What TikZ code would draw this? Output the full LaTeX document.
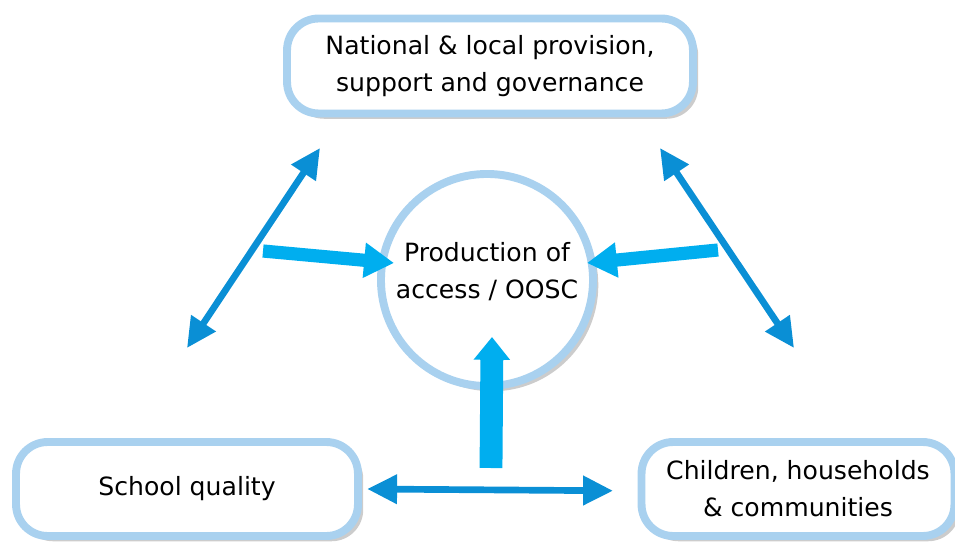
\documentclass[tikz,border=0pt]{standalone}
\usepackage{fontspec}
\setmainfont{DejaVu Sans}
\usetikzlibrary{arrows.meta,shadows,calc}

\definecolor{rimblue}{HTML}{A9D1EF}
\definecolor{linkblue}{HTML}{0A8FD5}
\definecolor{flowcyan}{HTML}{00AEEF}

\tikzset{
  factor/.style={draw=rimblue,line width=4.5pt,fill=white,rounded corners=18pt,
    align=center,font=\fontsize{14.3}{21}\selectfont,
    drop shadow={shadow xshift=3pt,shadow yshift=-3pt,opacity=0.2,fill=black}},
  core/.style={circle,draw=rimblue,line width=4.5pt,fill=white,minimum size=4.2cm,
    align=center,font=\fontsize{14.3}{21}\selectfont,text depth=11pt,
    drop shadow={shadow xshift=3pt,shadow yshift=-3pt,opacity=0.2,fill=black}},
  link/.style={linkblue,line width=3.8pt,
    {Triangle[length=17pt,width=16pt]}-{Triangle[length=17pt,width=16pt]}},
  flow/.style={flowcyan,line width=7.5pt,-{Triangle[length=17pt,width=19pt]}},
}

\begin{document}
\begin{tikzpicture}[x=0.02cm,y=-0.02cm]
\useasboundingbox (0,0) rectangle (955,543);

% The four boxes
\node[factor,minimum width=8.12cm,minimum height=1.9cm] (gov) at (490,66)
  {National \& local provision,\\support and governance};
\node[core] (access) at (487,280) {Production of\\access / OOSC};
\node[factor,minimum width=6.84cm,minimum height=1.88cm] (school) at (187,489)
  {School quality};
\node[factor,minimum width=6.26cm,minimum height=1.88cm] (homes) at (798,489)
  {Children, households\\\& communities};

% Two-way links
\coordinate (lt) at (320,148);
\coordinate (lb) at (187,348);
\coordinate (rt) at (660,148);
\coordinate (rb) at (794,348);
\draw[link] (lb) -- (lt);
\draw[link] (rt) -- (rb);
\draw[link] ([xshift=3pt]school.east) -- ([xshift=-14pt,yshift=-1pt]homes.west);

% Flows into the centre
\coordinate (fl) at (263,251);
\coordinate (fr) at (718,250);
\coordinate (fb) at (491,468);
\draw[flow] (fl) -- ($(access.center)+(-93,-17)$);
\draw[flow] (fr) -- ($(access.center)+(100,-17)$);
\draw[flow,line width=13pt,-{Triangle[length=13pt,width=20pt]}] (fb) -- ($(access.center)+(5,57)$);
\end{tikzpicture}
\end{document}
